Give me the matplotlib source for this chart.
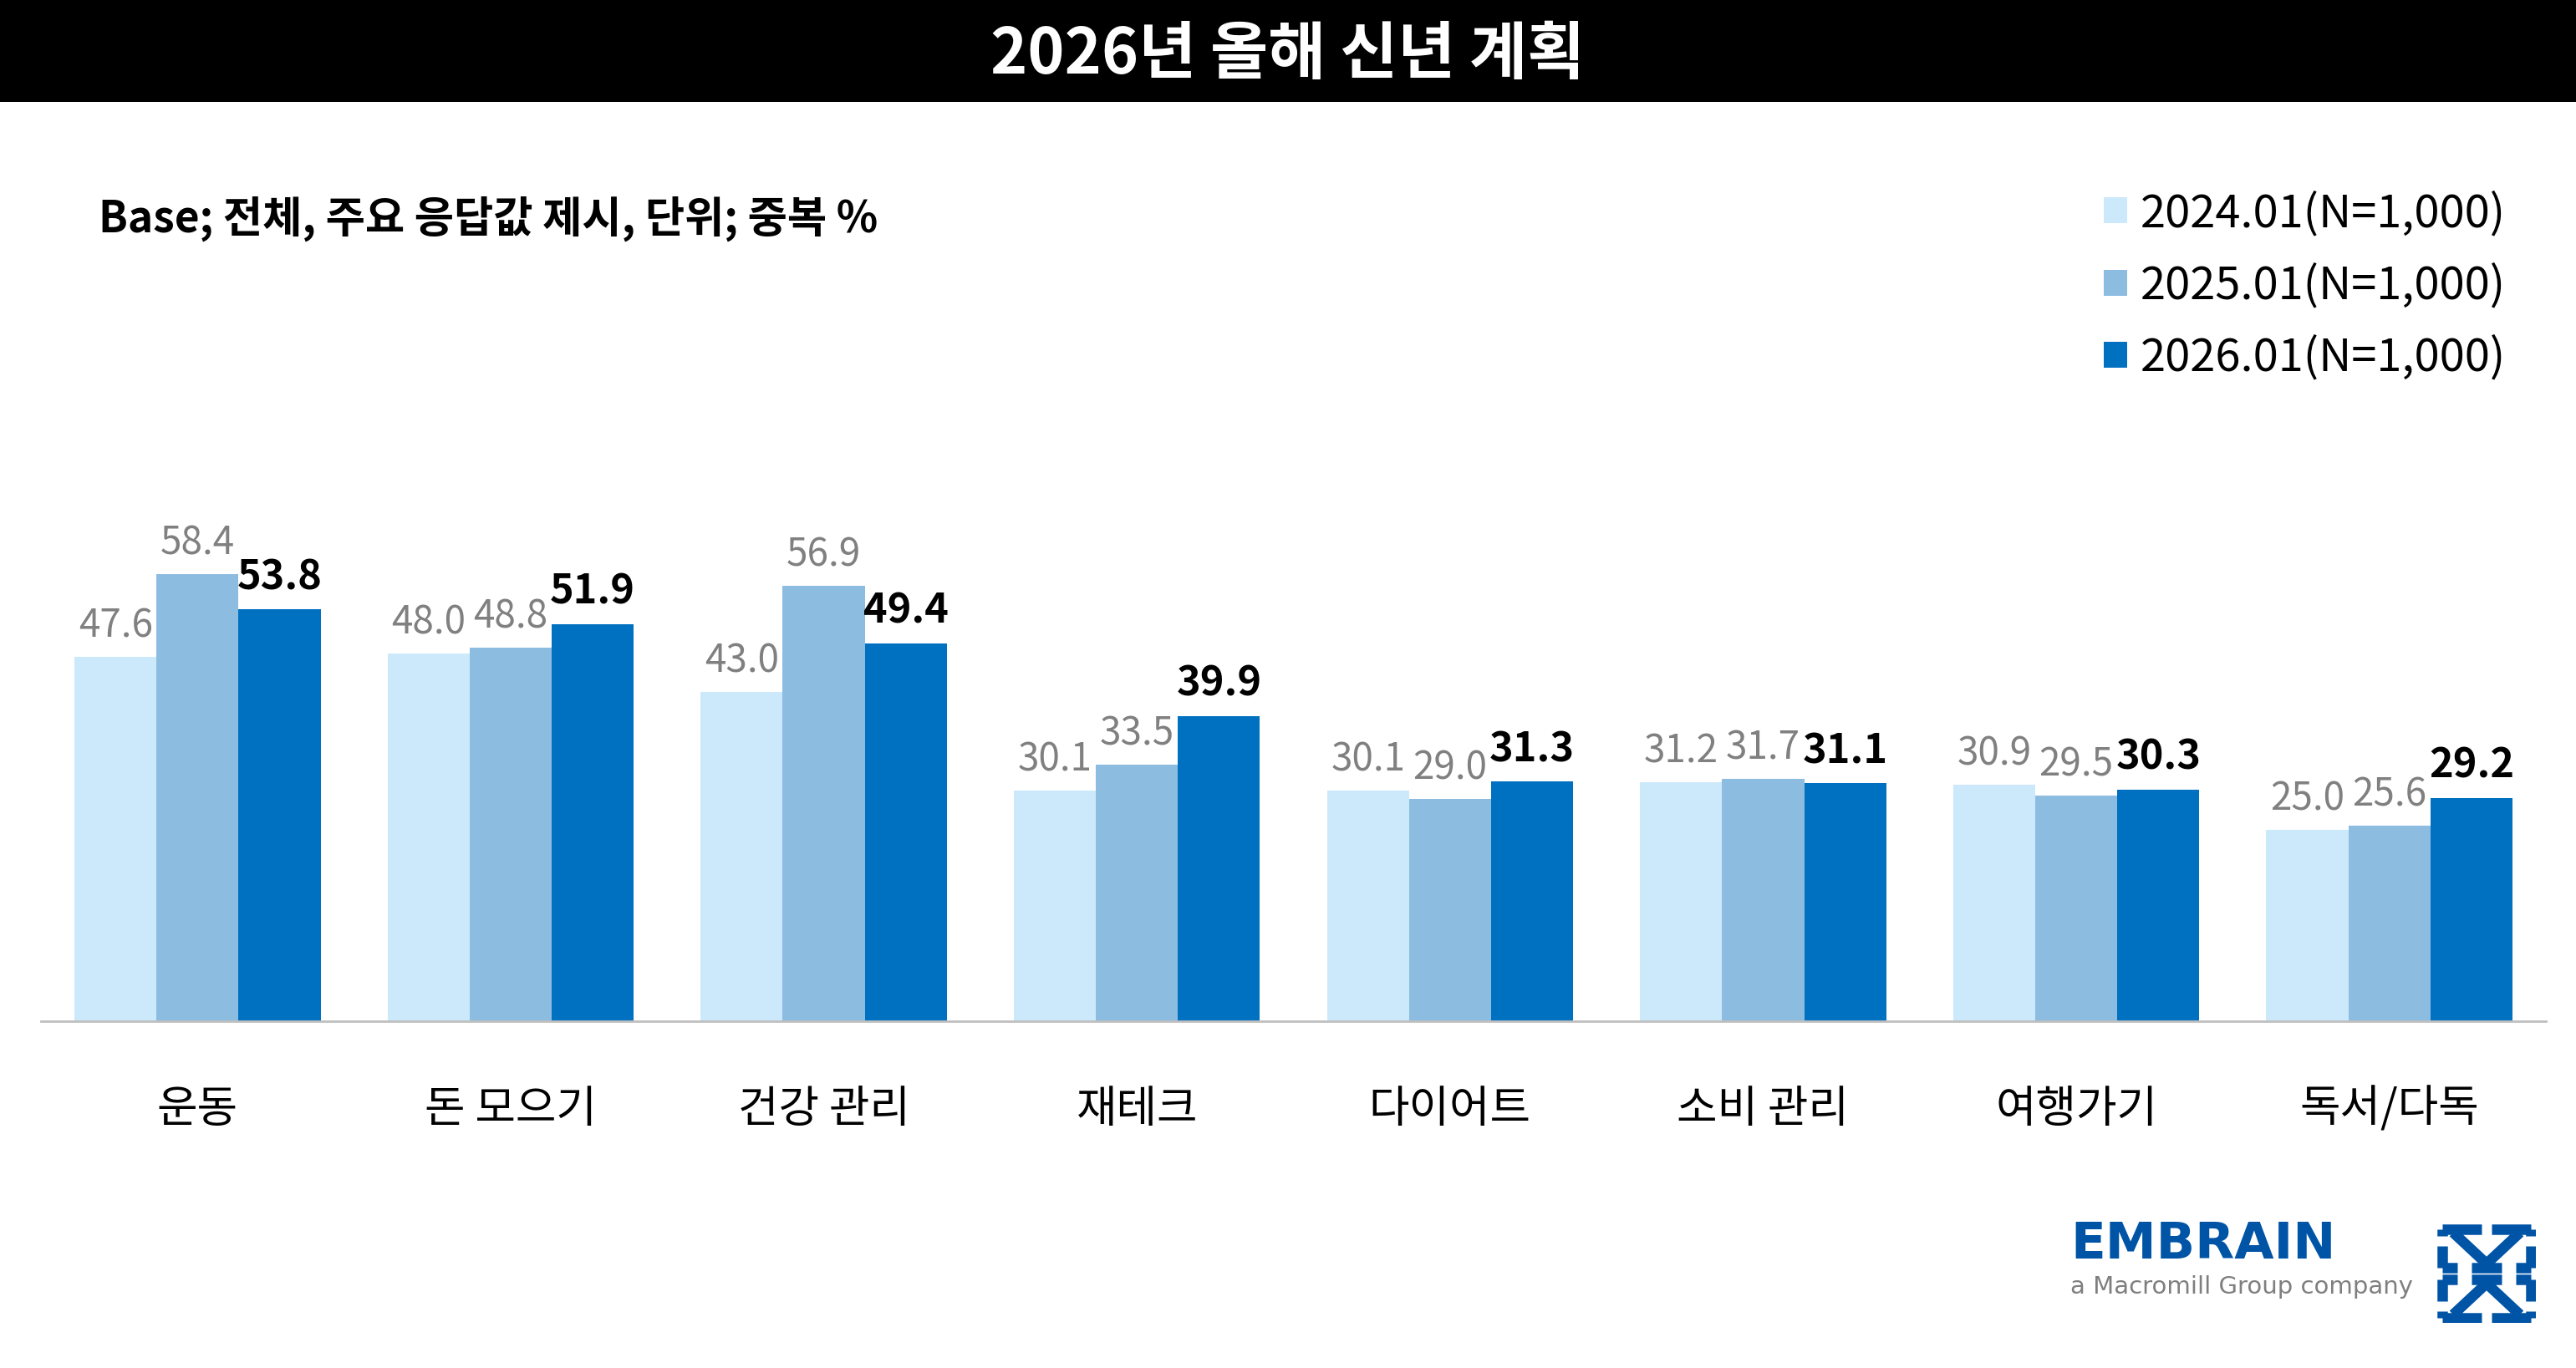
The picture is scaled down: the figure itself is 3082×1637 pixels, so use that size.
import numpy as np
import matplotlib
matplotlib.use("Agg")
import matplotlib.pyplot as plt
from matplotlib.patches import Rectangle, Patch

plt.rcParams['font.family'] = ['Noto Sans CJK KR', 'DejaVu Sans']

categories = ["운동", "돈 모으기", "건강 관리", "재테크", "다이어트", "소비 관리", "여행가기", "독서/다독"]
series_names = ["2024.01(N=1,000)", "2025.01(N=1,000)", "2026.01(N=1,000)"]
v2024 = [47.6, 48.0, 43.0, 30.1, 30.1, 31.2, 30.9, 25.0]
v2025 = [58.4, 48.8, 56.9, 33.5, 29.0, 31.7, 29.5, 25.6]
v2026 = [53.8, 51.9, 49.4, 39.9, 31.3, 31.1, 30.3, 29.2]
colors = ["#CCE9FC", "#8DBCE1", "#0070C0"]

W, H = 3082, 1637
fig = plt.figure(figsize=(W / 100, H / 100), dpi=100)

# black title band
fig.patches.append(Rectangle((0, 1 - 122 / H), 1, 122 / H, transform=fig.transFigure,
                             facecolor="black", edgecolor="none", zorder=0))
fig.text(0.5, 1 - 66 / H, "2026년 올해 신년 계획", color="white", fontsize=54,
         fontweight="bold", ha="center", va="center")

fig.text(118 / W, 1 - 262 / H, "Base; 전체, 주요 응답값 제시, 단위; 중복 %",
         fontsize=37, fontweight="bold", ha="left", va="center")

ax = fig.add_axes([49 / W, (H - 1222) / H, (3046 - 49) / W, 641 / H])
x = np.arange(len(categories))
bw = 0.262
series = [v2024, v2025, v2026]
for i, vals in enumerate(series):
    ax.bar(x + (i - 1) * bw, vals, width=bw, color=colors[i], label=series_names[i], zorder=2)
    for xi, v in zip(x + (i - 1) * bw, vals):
        if i < 2:
            ax.annotate(f"{v:.1f}", (xi, v), xytext=(0, 9), textcoords="offset points",
                        ha="center", va="bottom", fontsize=33, color="#808080")
        else:
            ax.annotate(f"{v:.1f}", (xi, v), xytext=(0, 10), textcoords="offset points",
                        ha="center", va="bottom", fontsize=35, color="black", fontweight="bold")

ax.set_xlim(-0.5, len(categories) - 0.5)
ax.set_ylim(0, 70)
ax.set_xticks(x)
ax.set_xticklabels(categories, fontsize=38)
ax.tick_params(axis="x", length=0, pad=56)
ax.set_yticks([])
for s in ["top", "right", "left"]:
    ax.spines[s].set_visible(False)
ax.spines["bottom"].set_color("#BFBFBF")
ax.spines["bottom"].set_linewidth(2)

handles = [Patch(facecolor=c) for c in colors]
fig.legend(handles, series_names, loc="upper right", bbox_to_anchor=(2998 / W, 1 - 228 / H),
           frameon=False, fontsize=39, handlelength=0.5, handleheight=0.5,
           handletextpad=0.3, labelspacing=0.58, borderpad=0, borderaxespad=0)

# logo
fig.text(2477 / W, 1 - 1490 / H, "EMBRAIN", fontsize=44, fontweight="bold",
         color="#0054A6", ha="left", va="center", family="DejaVu Sans")
fig.text(2477 / W, 1 - 1540 / H, "a Macromill Group company", fontsize=21,
         color="#7F7F7F", ha="left", va="center", family="DejaVu Sans")

lax = fig.add_axes([2916 / W, (H - 1583) / H, 118 / W, 118 / H])
lax.set_xlim(0, 1)
lax.set_ylim(0, 1)
lax.axis("off")
blue = "#0054A6"
lw = 9
for flip in [1, -1]:
    def yy(v):
        return 0.5 + flip * (v - 0.5)
    lax.plot([0.05, 0.45], [yy(0.95), yy(0.95)], color=blue, lw=lw, solid_capstyle="butt")
    lax.plot([0.55, 0.95], [yy(0.95), yy(0.95)], color=blue, lw=lw, solid_capstyle="butt")
    lax.plot([0.05, 0.05], [yy(0.95), yy(0.88)], color=blue, lw=lw, solid_capstyle="butt")
    lax.plot([0.95, 0.95], [yy(0.95), yy(0.88)], color=blue, lw=lw, solid_capstyle="butt")
    lax.plot([0.05, 0.05], [yy(0.78), yy(0.56)], color=blue, lw=lw, solid_capstyle="butt")
    lax.plot([0.95, 0.95], [yy(0.78), yy(0.56)], color=blue, lw=lw, solid_capstyle="butt")
    lax.plot([0.2, 0.5, 0.8], [yy(0.88), yy(0.6), yy(0.88)], color=blue, lw=lw)
    lax.plot([0.05, 0.2], [yy(0.56), yy(0.56)], color=blue, lw=lw, solid_capstyle="butt")
    lax.plot([0.8, 0.95], [yy(0.56), yy(0.56)], color=blue, lw=lw, solid_capstyle="butt")
    lax.plot([0.35, 0.65], [yy(0.56), yy(0.56)], color=blue, lw=lw, solid_capstyle="butt")

fig.savefig("out.png", dpi=100)
